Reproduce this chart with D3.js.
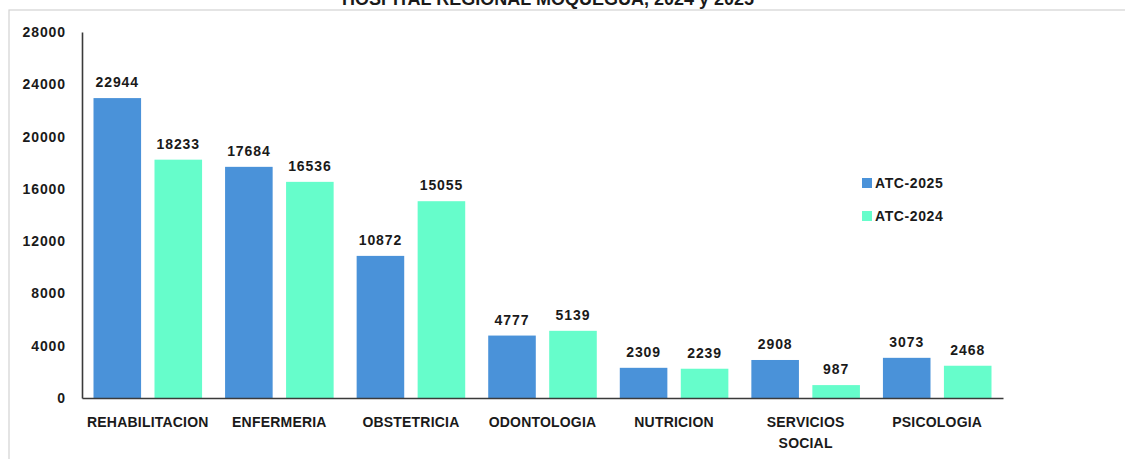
<!DOCTYPE html>
<meta charset="utf-8">
<style>
  body { margin: 0; background: #fff; }
  svg { display: block; }
  text { font-family: 'Liberation Sans', Arial, sans-serif; font-weight: bold; fill: #1a1a1a; }
  .axis .domain { stroke: #3a3a3a; stroke-width: 1.6; }
  .axis text { font-size: 14px; }
  .yaxis text { letter-spacing: 0.9px; }
  .xaxis text { letter-spacing: 0.2px; }
  .val { font-size: 14px; letter-spacing: 0.9px; }
  .legend text { font-size: 14px; letter-spacing: 0.6px; }
</style>
<body>
<script src="https://d3js.org/d3.v7.min.js"></script>
<script>

var width = 1125,
    height = 459;

var categories = ["REHABILITACION", "ENFERMERIA", "OBSTETRICIA", "ODONTOLOGIA", "NUTRICION", "SERVICIOS SOCIAL", "PSICOLOGIA"];
var series = ["ATC-2025", "ATC-2024"];
var atc2025 = [22944, 17684, 10872, 4777, 2309, 2908, 3073];
var atc2024 = [18233, 16536, 15055, 5139, 2239, 987, 2468];
var yTicks = [0, 4000, 8000, 12000, 16000, 20000, 24000, 28000];
var colors = ["#4a92d9", "#66fdcb"];
var title = "HOSPITAL REGIONAL MOQUEGUA, 2024 y 2025";

var values = [atc2025, atc2024];
var rows = categories.map(function(c, i) {
  return { cat: c, vals: series.map(function(s, j) { return { key: s, value: values[j][i], idx: j }; }) };
});

var svg = d3.select("body").append("svg")
    .attr("width", width)
    .attr("height", height);

// page frame
svg.append("rect")
    .attr("x", 9).attr("y", 10)
    .attr("width", width + 20).attr("height", height + 20)
    .attr("fill", "#fff")
    .attr("stroke", "#d2d2d2")
    .attr("stroke-width", 1.2);

// title (cut off at top, as in source)
svg.append("text")
    .attr("x", 548).attr("y", 5)
    .attr("text-anchor", "middle")
    .style("font-size", "18px")
    .text(title);

var x0 = d3.scaleBand()
    .domain(categories)
    .range([82, 1003]);

var x1 = d3.scaleBand()
    .domain(series)
    .range([11.5, x0.bandwidth() - 11.5])
    .paddingInner(0.22);

var y = d3.scaleLinear()
    .domain([0, 28000])
    .range([398, 32]);

var groups = svg.append("g").selectAll("g").data(rows)
  .enter().append("g")
    .attr("transform", function(d) { return "translate(" + x0(d.cat) + ",0)"; });

groups.selectAll("rect").data(function(d) { return d.vals; })
  .enter().append("rect")
    .attr("x", function(d) { return x1(d.key); })
    .attr("y", function(d) { return y(d.value); })
    .attr("width", x1.bandwidth())
    .attr("height", function(d) { return y(0) - y(d.value); })
    .attr("fill", function(d) { return colors[d.idx]; });

groups.selectAll("text.val").data(function(d) { return d.vals; })
  .enter().append("text")
    .attr("class", "val")
    .attr("x", function(d) { return x1(d.key) + x1.bandwidth() / 2; })
    .attr("y", function(d) { return y(d.value) - 11; })
    .attr("text-anchor", "middle")
    .text(function(d) { return d.value; });

svg.append("g")
    .attr("class", "axis yaxis")
    .attr("transform", "translate(82,0)")
    .call(d3.axisLeft(y).tickValues(yTicks).tickSize(0).tickPadding(16).tickFormat(d3.format("d")));

var xAxis = svg.append("g")
    .attr("class", "axis xaxis")
    .attr("transform", "translate(0,398)")
    .call(d3.axisBottom(x0).tickSize(0).tickPadding(0));

xAxis.selectAll(".tick text").each(function(d) {
  var t = d3.select(this).text("").attr("dy", null).attr("y", 0);
  var words = d === "SERVICIOS SOCIAL" ? d.split(" ") : [d];
  words.forEach(function(w, i) {
    t.append("tspan").attr("x", 0).attr("y", 29 + i * 21).text(w);
  });
});

var legend = svg.append("g").attr("class", "legend")
  .selectAll("g").data(series)
  .enter().append("g")
    .attr("transform", function(d, i) { return "translate(862," + (178 + i * 33) + ")"; });

legend.append("rect")
    .attr("width", 10).attr("height", 10)
    .attr("fill", function(d, i) { return colors[i]; });

legend.append("text")
    .attr("x", 13).attr("y", 5).attr("dy", "0.35em")
    .text(function(d) { return d; });

</script>
